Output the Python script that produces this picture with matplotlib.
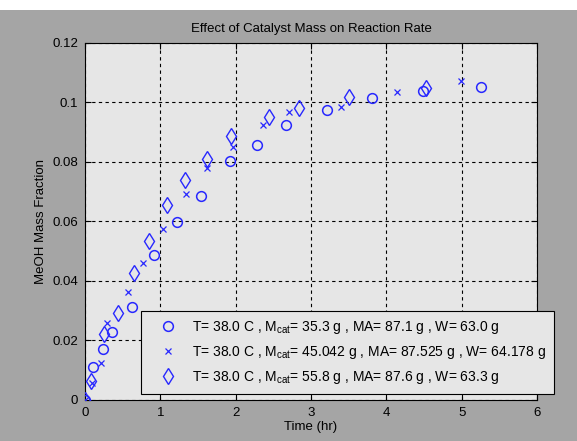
import matplotlib
matplotlib.use("Agg")
import matplotlib.pyplot as plt
from matplotlib.patches import Rectangle

plt.rcParams['font.family'] = ['Liberation Sans', 'DejaVu Sans']
plt.rcParams['mathtext.default'] = 'regular'

# Series 1: M_cat = 35.3 g (circles)
t1 = [0.0, 0.11, 0.235, 0.363, 0.624, 0.92, 1.222, 1.536, 1.926, 2.284, 2.673, 3.21, 3.807, 4.49, 5.255]
y1 = [0.0, 0.0111, 0.0169, 0.0229, 0.0313, 0.0485, 0.0596, 0.0686, 0.0802, 0.0856, 0.0923, 0.0974, 0.1014, 0.1037, 0.1052]
# Series 2: M_cat = 45.042 g (x)
t2 = [0.0, 0.097, 0.208, 0.296, 0.575, 0.774, 1.04, 1.345, 1.624, 1.965, 2.364, 2.709, 3.404, 4.139, 4.993]
y2 = [0.0, 0.0056, 0.0122, 0.0257, 0.0363, 0.0458, 0.0573, 0.0691, 0.0778, 0.0850, 0.0923, 0.0966, 0.0983, 0.1035, 0.1071]
# Series 3: M_cat = 55.8 g (diamonds)
t3 = [0.0, 0.084, 0.248, 0.434, 0.647, 0.846, 1.085, 1.332, 1.620, 1.939, 2.439, 2.838, 3.502, 4.52]
y3 = [0.0, 0.0063, 0.0221, 0.0290, 0.0425, 0.0533, 0.0654, 0.0740, 0.0809, 0.0887, 0.0951, 0.0982, 0.1019, 0.1047]

labels = [
    "T= 38.0 C , M$_{cat}$= 35.3 g , MA= 87.1 g , W= 63.0 g",
    "T= 38.0 C , M$_{cat}$= 45.042 g , MA= 87.525 g , W= 64.178 g",
    "T= 38.0 C , M$_{cat}$= 55.8 g , MA= 87.6 g , W= 63.3 g",
]
xticks = [0, 1, 2, 3, 4, 5, 6]
yticks = [0, 0.02, 0.04, 0.06, 0.08, 0.1, 0.12]
yticklabels = ["0", "0.02", "0.04", "0.06", "0.08", "0.1", "0.12"]

W, H = 577, 441
fig = plt.figure(figsize=(W/100, H/100), dpi=100, facecolor='#a5a5a5')
fig.patches.append(Rectangle((0, 1 - 10/H), 1, 10/H, transform=fig.transFigure,
                             facecolor='white', edgecolor='none', zorder=0))
ax = fig.add_axes([85/W, 1 - 399.7/H, (537-85)/W, (399.7-42.7)/H])
ax.set_facecolor('#e6e6e6')

blue = '#2828ff'
ax.plot(t1, y1, linestyle='none', marker='o', markersize=7, markerfacecolor='none',
        markeredgecolor=blue, markeredgewidth=1.1, label=labels[0], zorder=3)
ax.plot(t2, y2, linestyle='none', marker='x', markersize=4.5, markerfacecolor='none',
        markeredgecolor=blue, markeredgewidth=0.9, label=labels[1], zorder=3)
ax.plot(t3, y3, linestyle='none', marker='d', markersize=8.5, markerfacecolor='none',
        markeredgecolor=blue, markeredgewidth=1.0, label=labels[2], zorder=3)

ax.set_xlim(0, 6)
ax.set_ylim(0, 0.12)
ax.set_xticks(xticks)
ax.set_yticks(yticks)
ax.set_yticklabels(yticklabels)
ax.grid(True, color='black', linestyle=(0, (3, 3)), linewidth=0.8)
ax.set_axisbelow(True)
ax.tick_params(direction='in', top=True, right=True, length=4, width=0.8,
               labelsize=9.5, colors='black', pad=5)
for s in ax.spines.values():
    s.set_color('black')
    s.set_linewidth(0.8)

ax.set_title("Effect of Catalyst Mass on Reaction Rate", fontsize=9.5, pad=8)
ax.set_xlabel("Time (hr)", fontsize=9.5, labelpad=2)
ax.set_ylabel("MeOH Mass Fraction", fontsize=9.5, labelpad=4)

leg = ax.legend(loc='upper left', bbox_to_anchor=(141/W, 1 - 311/H),
                bbox_transform=fig.transFigure, fontsize=10, frameon=True,
                fancybox=False, edgecolor='black', facecolor='#e6e6e6', framealpha=1,
                handlelength=2.8, handletextpad=0.35, borderpad=0.55, labelspacing=0.6,
                borderaxespad=0)
leg.get_frame().set_linewidth(0.8)

fig.savefig("out.png", dpi=100, facecolor=fig.get_facecolor())
